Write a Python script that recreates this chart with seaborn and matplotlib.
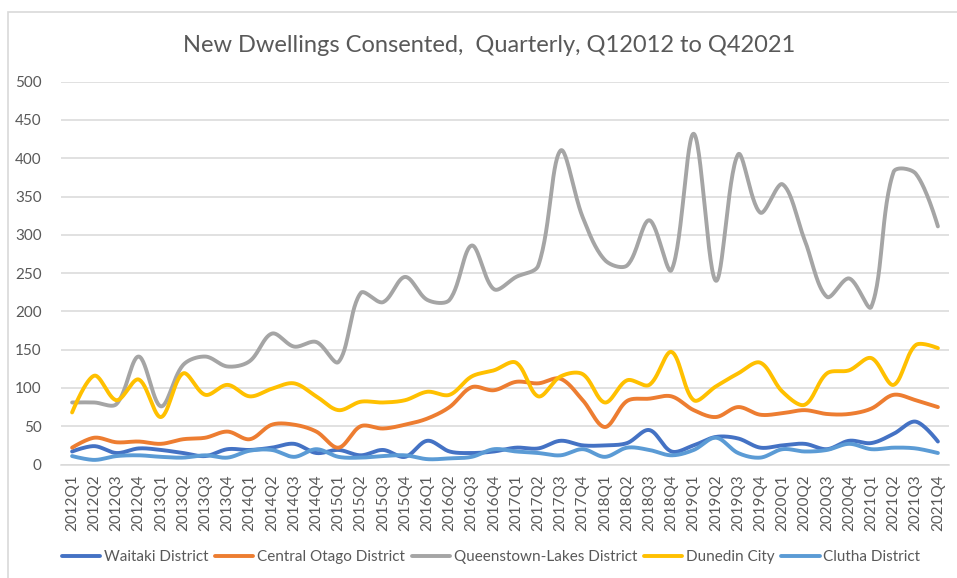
import numpy as np
import pandas as pd
import matplotlib
matplotlib.use("Agg")
import matplotlib.pyplot as plt
from matplotlib.lines import Line2D
from matplotlib.patches import Rectangle
import seaborn as sns

# ------------------------------------------
# DATA
# ------------------------------------------

quarters = [f"{yr}Q{q}" for yr in range(2012, 2022) for q in range(1, 5)]

waitaki = [17, 24, 15, 21, 19, 15, 11, 20, 19, 22, 27, 15, 19, 12, 19, 10, 31, 17, 15, 17,
           22, 21, 31, 25, 25, 28, 45, 17, 25, 36, 34, 22, 25, 27, 20, 31, 28, 40, 56, 30]
central_otago = [22, 35, 29, 30, 27, 33, 35, 43, 33, 52, 52, 43, 22, 50, 47, 52, 60, 75, 101, 97,
                 108, 106, 112, 84, 49, 83, 86, 89, 71, 62, 75, 65, 67, 71, 66, 66, 73, 91, 84, 75]
queenstown = [81, 81, 79, 141, 76, 130, 141, 128, 135, 171, 154, 160, 134, 224, 212, 245, 215, 215, 286, 229,
              245, 260, 410, 323, 267, 260, 319, 254, 432, 240, 405, 329, 366, 293, 219, 243, 206, 382, 380, 311]
dunedin = [68, 116, 84, 111, 62, 119, 91, 104, 89, 99, 106, 89, 71, 82, 81, 84, 95, 91, 115, 123,
           133, 89, 115, 118, 81, 110, 104, 147, 84, 102, 119, 133, 95, 78, 119, 123, 139, 104, 156, 152]
clutha = [11, 6, 11, 12, 10, 9, 12, 9, 18, 19, 10, 20, 10, 9, 11, 12, 7, 8, 10, 20,
          17, 15, 12, 20, 10, 22, 19, 12, 19, 35, 15, 9, 20, 17, 19, 27, 20, 22, 21, 15]

districts = ["Waitaki District", "Central Otago District", "Queenstown-Lakes District",
             "Dunedin City", "Clutha District"]
series = [waitaki, central_otago, queenstown, dunedin, clutha]
colors = ["#4472C4", "#ED7D31", "#A5A5A5", "#FFC000", "#5B9BD5"]

TEXT = "#595959"
GRID = "#D9D9D9"
FONT = "Lato"

# approx. screen size of one x category / one y unit, used for smoothing
PX_X = 22.2
PX_Y = 382.8 / 500


# ------------------------------------------
# SMOOTHING  (Excel-like bezier, control points scaled by chord length)
# ------------------------------------------

def smooth_line(y, steps=30, s=1 / 3):
    y = np.asarray(y, dtype=float)
    pts = np.column_stack([np.arange(len(y)) * PX_X, y * PX_Y])
    n = len(pts)
    t = np.linspace(0, 1, steps, endpoint=False)[:, None]
    out = []
    for i in range(n - 1):
        p0 = pts[max(i - 1, 0)]
        p1 = pts[i]
        p2 = pts[i + 1]
        p3 = pts[min(i + 2, n - 1)]
        d01 = np.linalg.norm(p1 - p0)
        d12 = np.linalg.norm(p2 - p1)
        d23 = np.linalg.norm(p3 - p2)
        f1 = s * d12 / (d01 + d12) if d01 > 0 else 0.0
        f2 = s * d12 / (d12 + d23) if d23 > 0 else 0.0
        c1 = p1 + (p2 - p0) * f1
        c2 = p2 - (p3 - p1) * f2
        seg = ((1 - t) ** 3) * p1 + 3 * ((1 - t) ** 2) * t * c1 \
            + 3 * (1 - t) * t ** 2 * c2 + t ** 3 * p2
        out.append(seg)
    out.append(pts[-1:])
    out = np.vstack(out)
    return out[:, 0] / PX_X, out[:, 1] / PX_Y


frames = []
for name, vals in zip(districts, series):
    sx, sy = smooth_line(vals)
    frames.append(pd.DataFrame({"x": sx, "value": sy, "district": name}))
df = pd.concat(frames, ignore_index=True)

# ------------------------------------------
# PLOT
# ------------------------------------------

sns.set_style("white")
plt.rcParams["font.family"] = [FONT, "DejaVu Sans"]

fig = plt.figure(figsize=(9.57, 5.78), dpi=100)
ax = fig.add_axes([61 / 957, 1 - 464.5 / 578, 888 / 957, 382.8 / 578])

sns.lineplot(
    data=df, x="x", y="value", hue="district",
    hue_order=districts, palette=colors,
    estimator=None, sort=False, linewidth=2.8,
    legend=False, ax=ax,
)

ax.set_xlim(-0.5, len(quarters) - 0.5)
ax.set_ylim(0, 500)
ax.set_yticks(range(0, 501, 50))
ax.set_xticks(range(len(quarters)))
ax.set_xticklabels(quarters, rotation=90, fontsize=11, color=TEXT)
ax.tick_params(axis="y", labelsize=11, labelcolor=TEXT, length=0, pad=14)
ax.tick_params(axis="x", length=0, pad=7)
ax.set_xlabel("")
ax.set_ylabel("")

ax.grid(axis="y", color=GRID, linewidth=1.1)
ax.set_axisbelow(True)
for side in ["top", "right", "left"]:
    ax.spines[side].set_visible(False)
ax.spines["bottom"].set_color(GRID)
ax.spines["bottom"].set_linewidth(1.1)

fig.text(489 / 957, 1 - 45 / 578, "New Dwellings Consented,  Quarterly, Q12012 to Q42021",
         ha="center", va="center", fontsize=17, color=TEXT)

handles = [Line2D([0], [0], color=c, linewidth=2.8) for c in colors]
fig.legend(handles, districts, loc="center", bbox_to_anchor=(491 / 957, 1 - 557 / 578),
           ncol=5, frameon=False, fontsize=11, labelcolor=TEXT,
           handlelength=2.5, handletextpad=0.25, columnspacing=0.45,
           borderpad=0, borderaxespad=0)

# chart-area border (only top/left visible in the crop)
fig.patches.append(Rectangle((8 / 957, -0.05), 1.1, 1 - 12 / 578 + 0.05,
                             transform=fig.transFigure, fill=False,
                             edgecolor=GRID, linewidth=1.2))

fig.savefig("out.png", dpi=100, facecolor="white")
plt.close(fig)
